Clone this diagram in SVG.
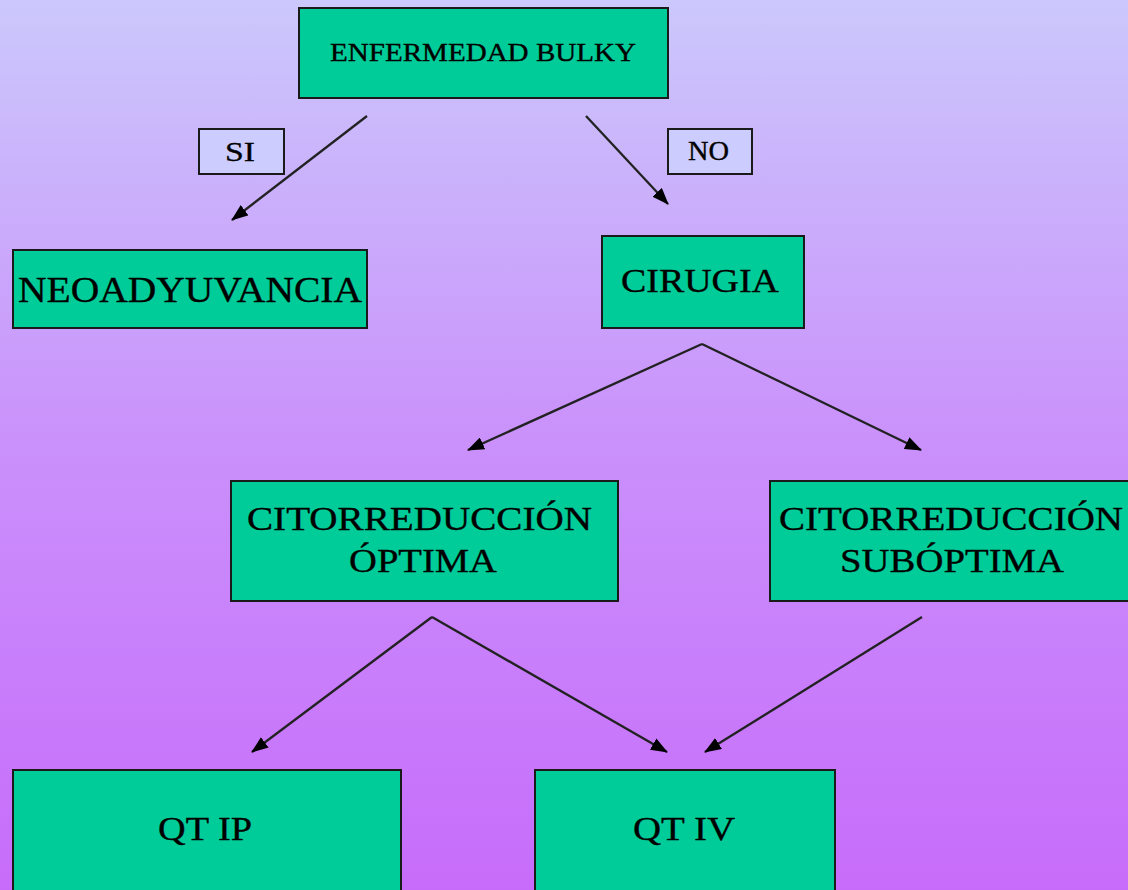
<svg xmlns="http://www.w3.org/2000/svg" width="1128" height="890" viewBox="0 0 1128 890">
<style>
.box{fill:#00CC99;stroke:#1a1a1a;stroke-width:2}
.lbl{fill:#CCCCFF;stroke:#1a1a1a;stroke-width:2}
.t{font-family:"Liberation Serif","Times New Roman",serif;fill:#000;stroke:#000;stroke-width:0.35;text-anchor:start}
.c{stroke:#222;stroke-width:2.3;fill:none;marker-end:url(#ah)}
</style>
<defs>
<linearGradient id="bg" x1="0" y1="0" x2="0" y2="1">
<stop offset="0" stop-color="#CBC8FC"/>
<stop offset="0.5" stop-color="#CA90FB"/>
<stop offset="1" stop-color="#C76CFA"/>
</linearGradient>
<marker id="ah" markerWidth="17" markerHeight="13" refX="16" refY="6.5" orient="auto" markerUnits="userSpaceOnUse">
<path d="M0,0 L17,6.5 L0,13 Z" fill="#000"/>
</marker>
</defs>
<rect x="0" y="0" width="1128" height="890" fill="url(#bg)"/>

<g id="connectors">
<line class="c" x1="367" y1="116" x2="232" y2="220"/>
<line class="c" x1="586" y1="116" x2="668" y2="204"/>
<line class="c" x1="702" y1="344" x2="468" y2="450"/>
<line class="c" x1="702" y1="344" x2="921" y2="450"/>
<line class="c" x1="432" y1="617" x2="252" y2="752"/>
<line class="c" x1="432" y1="617" x2="667" y2="752"/>
<line class="c" x1="922" y1="617" x2="705" y2="752"/>
</g>

<g id="label-si">
<rect class="lbl" x="199" y="129" width="85" height="45"/>
<text class="t" x="225" y="161" font-size="28" textLength="30" lengthAdjust="spacingAndGlyphs">SI</text>
</g>
<g id="label-no">
<rect class="lbl" x="668" y="129" width="84" height="45"/>
<text class="t" x="688" y="160" font-size="27" textLength="41" lengthAdjust="spacingAndGlyphs">NO</text>
</g>

<g id="node-bulky">
<rect class="box" x="299" y="8" width="369" height="90"/>
<text class="t" x="330" y="61" font-size="26" textLength="306" lengthAdjust="spacingAndGlyphs">ENFERMEDAD BULKY</text>
</g>
<g id="node-neo">
<rect class="box" x="13" y="250" width="354" height="78"/>
<text class="t" x="18" y="302" font-size="35" textLength="344" lengthAdjust="spacingAndGlyphs">NEOADYUVANCIA</text>
</g>
<g id="node-cirugia">
<rect class="box" x="602" y="236" width="202" height="92"/>
<text class="t" x="621" y="292" font-size="34" textLength="158" lengthAdjust="spacingAndGlyphs">CIRUGIA</text>
</g>
<g id="node-optima">
<rect class="box" x="231" y="481" width="387" height="120"/>
<text class="t" x="247" y="530" font-size="34" textLength="345" lengthAdjust="spacingAndGlyphs">CITORREDUCCIÓN</text>
<text class="t" x="349" y="572" font-size="34" textLength="148" lengthAdjust="spacingAndGlyphs">ÓPTIMA</text>
</g>
<g id="node-suboptima">
<rect class="box" x="770" y="481" width="362" height="120"/>
<text class="t" x="779" y="530" font-size="34" textLength="344" lengthAdjust="spacingAndGlyphs">CITORREDUCCIÓN</text>
<text class="t" x="840" y="572" font-size="34" textLength="224" lengthAdjust="spacingAndGlyphs">SUBÓPTIMA</text>
</g>
<g id="node-qtip">
<rect class="box" x="13" y="770" width="388" height="130"/>
<text class="t" x="158" y="840" font-size="34" textLength="94" lengthAdjust="spacingAndGlyphs">QT IP</text>
</g>
<g id="node-qtiv">
<rect class="box" x="535" y="770" width="300" height="130"/>
<text class="t" x="633" y="840" font-size="34" textLength="102" lengthAdjust="spacingAndGlyphs">QT IV</text>
</g>
</svg>
